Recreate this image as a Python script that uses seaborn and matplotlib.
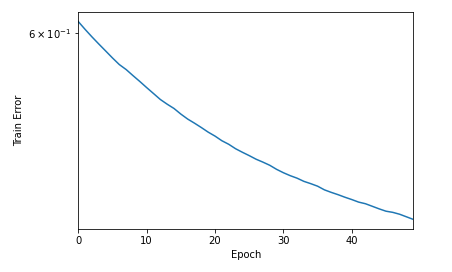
import matplotlib
matplotlib.use("Agg")
import matplotlib.pyplot as plt
from matplotlib.ticker import NullLocator, LogFormatterSciNotation
import seaborn as sns
import numpy as np

epochs = list(range(50))
train_error = [
    0.6055, 0.6016, 0.5979, 0.5944, 0.5910, 0.5876, 0.5844, 0.5820, 0.5791, 0.5763,
    0.5734, 0.5706, 0.5678, 0.5656, 0.5636, 0.5610, 0.5587, 0.5568, 0.5548, 0.5527,
    0.5509, 0.5488, 0.5472, 0.5452, 0.5436, 0.5421, 0.5405, 0.5392, 0.5378, 0.5360,
    0.5345, 0.5332, 0.5321, 0.5307, 0.5297, 0.5286, 0.5270, 0.5259, 0.5249, 0.5238,
    0.5228, 0.5217, 0.5210, 0.5199, 0.5188, 0.5178, 0.5173, 0.5165, 0.5154, 0.5143,
]
y_ticks = [0.6]

fig = plt.figure(figsize=(452 / 72, 272 / 72), dpi=72)
ax = fig.add_axes([78.3 / 452, 1 - 229.3 / 272, (413.3 - 78.3) / 452, (229.3 - 11.7) / 272])
sns.lineplot(x=epochs, y=train_error, ax=ax, color="#1f77b4", linewidth=1.5)
ax.set_yscale("log")
ax.set_xlim(epochs[0], epochs[-1])
ax.set_yticks(y_ticks)
ax.yaxis.set_major_formatter(LogFormatterSciNotation(labelOnlyBase=False))
ax.yaxis.set_minor_locator(NullLocator())
ax.set_xlabel("Epoch")
ax.set_ylabel("Train Error")
fig.savefig("out.png", dpi=72)
